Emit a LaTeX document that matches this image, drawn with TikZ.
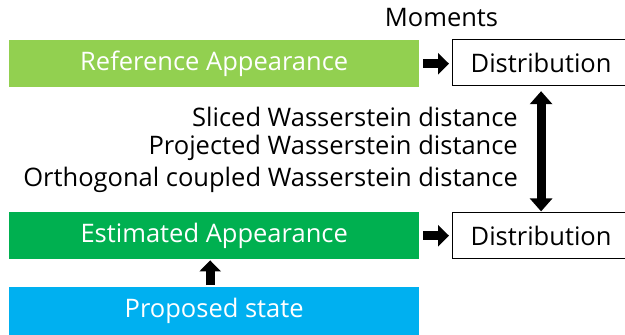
\documentclass[tikz,border=0pt]{standalone}
\usepackage{fontspec}
\setmainfont{Open Sans}
\usetikzlibrary{arrows.meta}
\definecolor{lightgreen}{HTML}{92D050}
\definecolor{darkgreen}{HTML}{00B050}
\definecolor{skyblue}{HTML}{00B0F0}
\tikzset{
  bar/.style={minimum width=410pt, minimum height=47pt, inner sep=0pt,
    text=white, font=\fontsize{25.5}{30}\selectfont, anchor=north west},
  distbox/.style={draw=black, line width=1.2pt, fill=white, minimum width=177pt,
    minimum height=46pt, inner sep=0pt, font=\fontsize{25.5}{30}\selectfont, anchor=north west},
  label/.style={inner sep=0pt, font=\fontsize{25.5}{30}\selectfont},
  blockarrow/.style={line width=9pt, -{Triangle[length=11pt,width=21pt]}},
  blockdouble/.style={line width=9pt, {Triangle[length=13pt,width=22pt]}-{Triangle[length=13pt,width=22pt]}}
}
\begin{document}
\begin{tikzpicture}[x=1pt,y=-1pt]
\useasboundingbox (0,0) rectangle (625,335);
\fill[white] (0,0) rectangle (625,335);

% left column of coloured bars
\node[bar, fill=lightgreen] (ref) at (9,40) {Reference Appearance};
\node[bar, fill=darkgreen] (est) at (9,212) {Estimated Appearance};
\node[bar, fill=skyblue, minimum height=48pt] (prop) at (9,287) {Proposed state};

% distribution boxes (right edge runs past the page)
\node[distbox] (dtop) at (452,39) {Distribution};
\node[distbox] (dbot) at (452,212) {Distribution};

% labels
\node[label] (mom) at (441.5,18) {Moments};
\node[label, anchor=east] (l1) at (518,117) {Sliced Wasserstein distance};
\node[label, anchor=east] (l2) at (518,148) {Projected Wasserstein distance};
\node[label, anchor=east] (l3) at (518,180) {Orthogonal coupled Wasserstein distance};

% connectors
\draw[blockarrow, shorten <=4pt, shorten >=3pt] (ref.east) -- (dtop.west |- ref.east);
\draw[blockarrow, shorten <=4pt, shorten >=3pt] (est.east) -- (dbot.west |- est.east);
\draw[blockarrow, shorten <=2pt, shorten >=1pt] ([xshift=-4pt]prop.north) -- ([xshift=-4pt]est.south);
\draw[blockdouble, shorten <=5pt, shorten >=0.6pt] (dtop.south) -- (dbot.north);
\end{tikzpicture}
\end{document}
